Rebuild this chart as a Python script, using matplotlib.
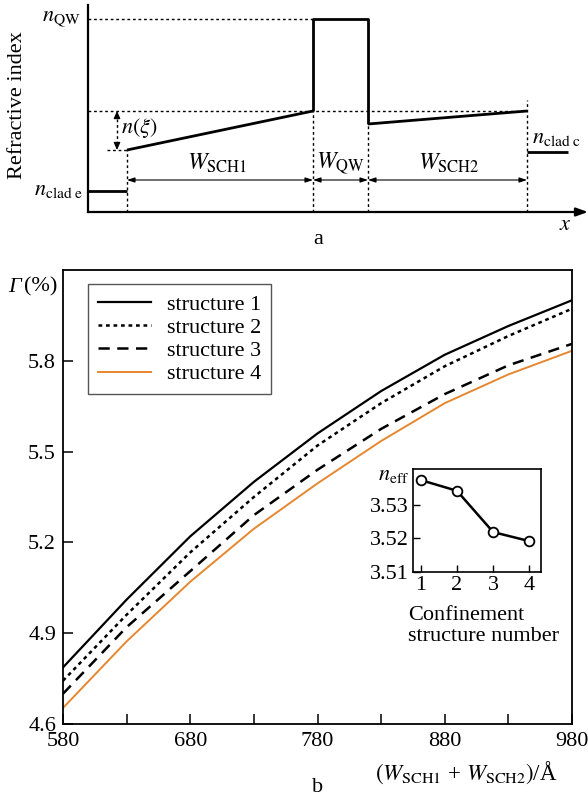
import numpy as np
import matplotlib.pyplot as plt

plt.rcParams['font.family'] = ['Liberation Serif', 'DejaVu Serif']
plt.rcParams['mathtext.fontset'] = 'stix'

# --- (a) schematic refractive-index profile, arbitrary units ---
x_edges = [0, 39, 225, 280, 439, 480]   # clad e | SCH1 | QW | SCH2 | clad c
n_clad_e = 21
n_sch1 = [62, 101]
n_qw = 193
n_sch2 = [88, 101]
n_clad_c = 60
x_end = 500
y_top = 207
dim_level = 32

# --- (b) confinement factor vs total SCH width ---
width_sum = [580, 630, 680, 730, 780, 830, 880, 930, 980]
gamma_1 = [4.787, 5.011, 5.220, 5.400, 5.560, 5.700, 5.820, 5.915, 6.000]
gamma_2 = [4.743, 4.961, 5.167, 5.350, 5.520, 5.660, 5.782, 5.882, 5.972]
gamma_3 = [4.700, 4.920, 5.105, 5.290, 5.440, 5.575, 5.690, 5.785, 5.856]
gamma_4 = [4.653, 4.873, 5.070, 5.245, 5.395, 5.535, 5.660, 5.755, 5.833]

# inset: effective index per structure
struct_no = [1, 2, 3, 4]
n_eff = [3.5373, 3.5341, 3.5218, 3.5191]

fig = plt.figure(figsize=(5.88, 7.98), dpi=100)
fs = 16

# ---------------- panel a ----------------
ax = fig.add_axes([88 / 588, 1 - 212 / 798, 500 / 588, 207 / 798])
ax.set_xlim(0, x_end)
ax.set_ylim(0, y_top)
ax.axis('off')

x0, x1, x2, x3, x4, x5 = x_edges
pk = dict(color='k', lw=2.0, solid_capstyle='butt')
ax.plot([x0, x1], [n_clad_e, n_clad_e], **pk)
ax.plot([x1, x2], n_sch1, **pk)
ax.plot([x2, x2, x3, x3], [n_sch1[1], n_qw, n_qw, n_sch2[0]], **pk)
ax.plot([x3, x4], n_sch2, **pk)
ax.plot([x4, x5], [n_clad_c, n_clad_c], **pk)

dot = dict(color='k', lw=1.0, ls=(0, (2, 2)))
ax.plot([x0, x2], [n_qw, n_qw], **dot)
ax.plot([x0, x4], [n_sch1[1], n_sch1[1]], **dot)
ax.plot([x1 - 20, x1], [n_sch1[0], n_sch1[0]], **dot)
ax.plot([x1, x1], [0, n_sch1[0]], **dot)
ax.plot([x2, x2], [0, n_sch1[1]], **dot)
ax.plot([x3, x3], [0, n_sch2[0]], **dot)
ax.plot([x4, x4], [0, n_sch1[1] + 11], **dot)

# axes
ax.plot([0, 0], [0, y_top], color='k', lw=1.6, clip_on=False)
ax.annotate('', xy=(x_end, 0), xytext=(0, 0), annotation_clip=False,
            arrowprops=dict(arrowstyle='-|>,head_length=0.7,head_width=0.25',
                            color='k', lw=1.6, shrinkA=0, shrinkB=0))

# width dimension arrows
for a, b in [(x1, x2), (x2, x3), (x3, x4)]:
    ax.annotate('', xy=(b, dim_level), xytext=(a, dim_level),
                arrowprops=dict(arrowstyle='<|-|>,head_length=0.45,head_width=0.15',
                                color='k', lw=0.8, shrinkA=0, shrinkB=0))

# n(xi) step marker
xa = x1 - 10
ax.plot([xa, xa], [n_sch1[0] + 6, n_sch1[1] - 6], **dot)
for tip, tail in [(n_sch1[1], n_sch1[1] - 7), (n_sch1[0], n_sch1[0] + 7)]:
    ax.annotate('', xy=(xa, tip), xytext=(xa, tail),
                arrowprops=dict(arrowstyle='-|>,head_length=0.45,head_width=0.2',
                                color='k', lw=0.8, shrinkA=0, shrinkB=0))

ax.text(-7, n_qw, r'$n_{\mathrm{QW}}$', ha='right', va='center', fontsize=fs)
ax.text(-5, n_clad_e + 1, r'$n_{\mathrm{clad\ e}}$', ha='right', va='center', fontsize=fs)
ax.text(x1 - 6, 84, r'$n(\xi)$', ha='left', va='center', fontsize=fs)
ax.text(129, 49, r'$W_{\mathrm{SCH1}}$', ha='center', va='center', fontsize=fs + 1)
ax.text(252, 49, r'$W_{\mathrm{QW}}$', ha='center', va='center', fontsize=fs + 1)
ax.text(361, 49, r'$W_{\mathrm{SCH2}}$', ha='center', va='center', fontsize=fs + 1)
ax.text(x4 + 5, 74, r'$n_{\mathrm{clad\ c}}$', ha='left', va='center', fontsize=fs)
ax.text(477, -13, r'$x$', ha='center', va='center', fontsize=fs)

fig.text(18 / 588, 1 - 105 / 798, 'Refractive index', rotation=90,
         ha='center', va='center', fontsize=fs)
fig.text(318 / 588, 1 - 240 / 798, 'a', ha='center', va='center', fontsize=fs)

# ---------------- panel b ----------------
bx = fig.add_axes([63 / 588, 1 - 724 / 798, 509 / 588, 454 / 798])
bx.plot(width_sum, gamma_1, color='k', lw=1.6, label='structure 1')
bx.plot(width_sum, gamma_2, color='k', lw=1.8, ls=(0, (1.5, 1.5)), label='structure 2')
bx.plot(width_sum, gamma_3, color='k', lw=1.8, ls=(0, (4.5, 3)), label='structure 3')
bx.plot(width_sum, gamma_4, color='#e6872f', lw=1.4, label='structure 4')

bx.set_xlim(580, 980)
bx.set_ylim(4.6, 6.1)
xt = list(range(580, 981, 50))
bx.set_xticks(xt)
bx.set_xticklabels([str(v) if (v - 580) % 100 == 0 else '' for v in xt])
yt = [4.6, 4.9, 5.2, 5.5, 5.8]
bx.set_yticks(yt)
bx.set_yticklabels(['%.1f' % v for v in yt])
bx.tick_params(direction='in', length=7, width=1.1, labelsize=fs)
bx.tick_params(axis='y', pad=5)
bx.tick_params(axis='x', pad=6)
for s in bx.spines.values():
    s.set_linewidth(1.3)

leg = bx.legend(loc='upper left', bbox_to_anchor=(0.049, 0.969), borderaxespad=0,
                fancybox=False, edgecolor='#555555', framealpha=1, fontsize=fs,
                handlelength=2.4, handletextpad=0.7, labelspacing=0.12, borderpad=0.45)
leg.get_frame().set_linewidth(1.0)

fig.text(8 / 588, 1 - 287 / 798, 'Γ', style='italic', ha='left', va='center', fontsize=fs)
fig.text(24 / 588, 1 - 287 / 798, '(%)', ha='left', va='center', fontsize=fs)
fig.text(466 / 588, 1 - 773 / 798, r'$(W_{\mathrm{SCH1}}$ + $W_{\mathrm{SCH2}})$/Å',
         ha='center', va='center', fontsize=16.5)
fig.text(318 / 588, 1 - 788 / 798, 'b', ha='center', va='center', fontsize=fs)

# inset
ix = fig.add_axes([412.7 / 588, 1 - 571.7 / 798, 128.3 / 588, 102.4 / 798])
ix.plot(struct_no, n_eff, color='k', lw=1.8, marker='o', ms=7,
        mfc='white', mec='k', mew=1.3)
ix.set_xlim(0.78, 4.32)
ix.set_ylim(3.51, 3.5405)
ix.set_xticks(struct_no)
ix.set_yticks([3.51, 3.52, 3.53])
ix.set_yticklabels(['3.51', '3.52', '3.53'])
ix.tick_params(direction='in', length=5, width=1.0, labelsize=fs, pad=3)
for s in ix.spines.values():
    s.set_linewidth(1.2)
ix.text(-0.03, 0.94, r'$n_{\mathrm{eff}}$', transform=ix.transAxes,
        ha='right', va='center', fontsize=fs)
fig.text(408 / 588, 1 - 626 / 798, 'Confinement\nstructure number', ha='left',
         va='center', fontsize=fs, linespacing=1.1)

fig.savefig('out.png', dpi=100)
